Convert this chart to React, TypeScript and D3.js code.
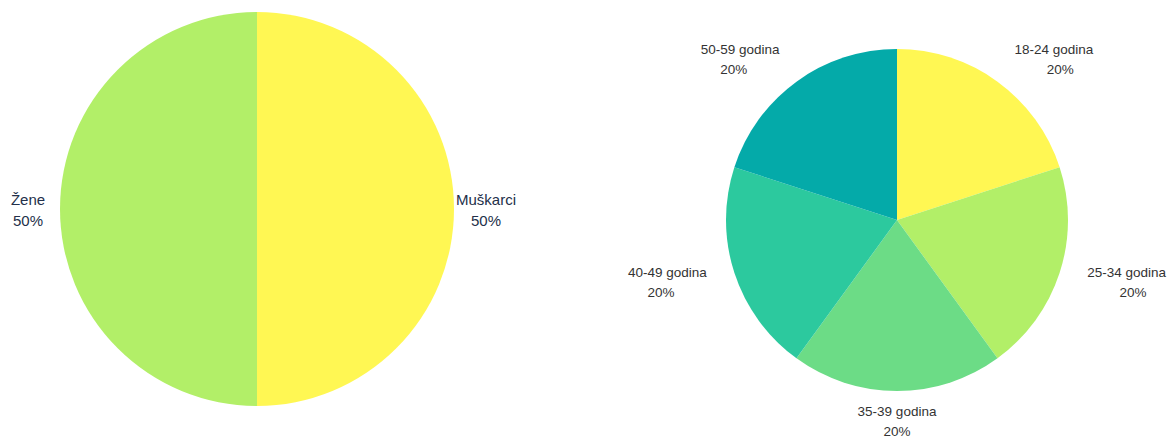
import React from "react";
import * as d3 from "d3";

const genderLabels = ["Muškarci", "Žene"];
const genderValues = [50, 50];
const genderColors = ["#fff753", "#b2ef68"];

const ageLabels = ["18-24 godina", "25-34 godina", "35-39 godina", "40-49 godina", "50-59 godina"];
const ageValues = [20, 20, 20, 20, 20];
const ageColors = ["#fff753", "#b2ef68", "#6cdc86", "#2cc99e", "#04aaa9"];

type PieProps = {
  labels: string[];
  values: number[];
  colors: string[];
  cx: number;
  cy: number;
  r: number;
  fontSize: number;
  lineGap: number;
  textColor: string;
  mode: "center" | "edge";
  offset: number;
};

const Pie = ({ labels, values, colors, cx, cy, r, fontSize, lineGap, textColor, mode, offset }: PieProps) => {
  const total = d3.sum(values);
  const arcs = d3.pie<number>().sort(null)(values);
  const arc = d3.arc<d3.PieArcDatum<number>>().innerRadius(0).outerRadius(r);
  return (
    <g transform={`translate(${cx},${cy})`}>
      {arcs.map((a, i) => (
        <path key={i} d={arc(a) || ""} fill={colors[i]} />
      ))}
      {arcs.map((a, i) => {
        const mid = (a.startAngle + a.endAngle) / 2;
        const lr = r + offset;
        const x = Math.sin(mid) * lr;
        const y = -Math.cos(mid) * lr + 1;
        const s = Math.sin(mid);
        let anchor = "middle";
        if (mode === "edge") {
          if (s > 0.01) anchor = "start";
          else if (s < -0.01) anchor = "end";
        }
        const pct = Math.round((values[i] / total) * 100) + "%";
        // lines of the block are centred on each other
        const lines = [labels[i], pct];
        const widths = lines.map((t) => t.length);
        return (
          <text
            key={i}
            x={x}
            y={y}
            fontSize={fontSize}
            fill={textColor}
            textAnchor={anchor}
            fontFamily="'Liberation Sans', Arial, sans-serif"
          >
            {lines.map((t, j) => {
              let dx = 0;
              if (anchor !== "middle" && j === 1) {
                const w0 = widths[0] * fontSize * 0.53;
                const w1 = widths[1] * fontSize * 0.53;
                dx = anchor === "start" ? (w0 - w1) / 2 : -(w0 - w1) / 2;
              }
              return (
                <tspan
                  key={j}
                  x={x + dx}
                  y={y + (j - 0.5) * lineGap}
                  dominantBaseline="central"
                >
                  {t}
                </tspan>
              );
            })}
          </text>
        );
      })}
    </g>
  );
};

export default function App() {
  return (
    <svg
      width={1173}
      height={437}
      style={{ position: "absolute", left: 0, top: 0 }}
    >
      <Pie
        labels={genderLabels}
        values={genderValues}
        colors={genderColors}
        cx={257}
        cy={209}
        r={197}
        fontSize={15}
        lineGap={21}
        textColor="#23304a"
        mode="center"
        offset={32}
      />
      <Pie
        labels={ageLabels}
        values={ageValues}
        colors={ageColors}
        cx={897}
        cy={220}
        r={171}
        fontSize={13.5}
        lineGap={20}
        textColor="#333333"
        mode="edge"
        offset={29}
      />
    </svg>
  );
}
